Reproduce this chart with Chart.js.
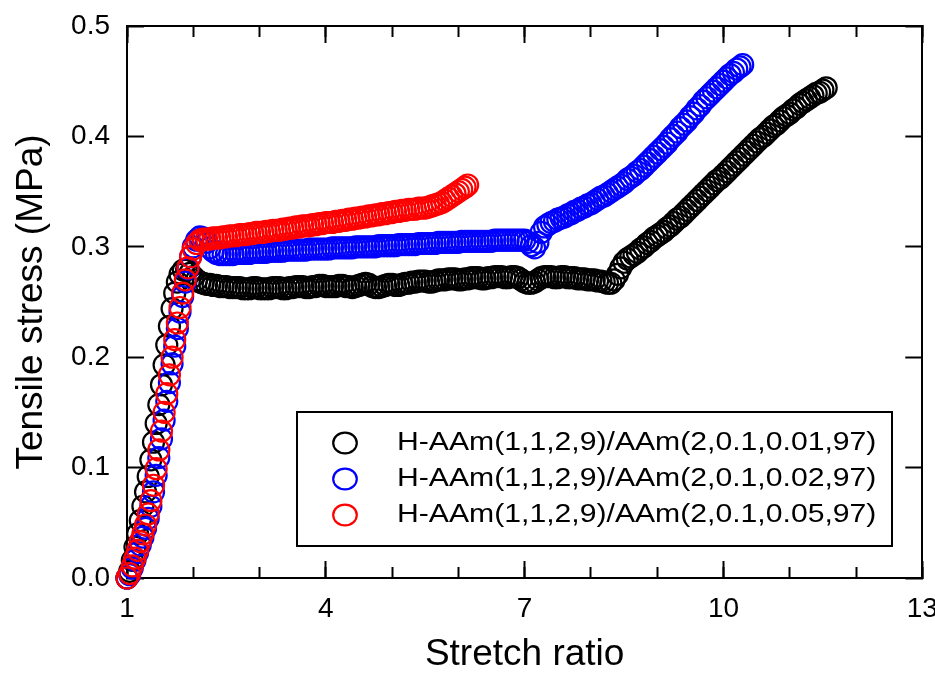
<!DOCTYPE html>
<html>
<head>
<meta charset="utf-8">
<title>Tensile stress vs stretch ratio</title>
<script src="https://cdn.jsdelivr.net/npm/chart.js@4.4.1/dist/chart.umd.min.js"></script>
<style>
  html, body { margin: 0; padding: 0; background: #ffffff; }
  canvas { display: block; }
</style>
</head>
<body>
<canvas id="chart" width="935" height="681"></canvas>
<script>
// ---- series labels and colours ----
const seriesLabels = [
  'H-AAm(1,1,2,9)/AAm(2,0.1,0.01,97)',
  'H-AAm(1,1,2,9)/AAm(2,0.1,0.02,97)',
  'H-AAm(1,1,2,9)/AAm(2,0.1,0.05,97)'
];
const seriesColors = ['#000000', '#0000ff', '#ff0000'];

// ---- axis ticks ----
const xMajorTicks = [1, 4, 7, 10, 13];
const xMinorTicks = [1, 2, 3, 4, 5, 6, 7, 8, 9, 10, 11, 12, 13];
const yTicks = [0, 0.1, 0.2, 0.3, 0.4, 0.5];
const yTickLabels = ['0.0', '0.1', '0.2', '0.3', '0.4', '0.5'];

// ---- AAm 0.01 (black) ----
const stretch001 = [
  1.00,1.04,1.08,1.12,1.16,1.20,1.24,1.28,1.32,1.36,1.40,1.44,1.48,1.52,1.56,1.60,1.64,1.68,1.72,1.76,
  1.80,1.85,1.90,1.95,2.00,2.05,2.10,
  2.15,2.20,2.25,2.30,2.35,2.40,2.45,2.50,2.55,2.60,
  2.65,2.70,2.75,2.80,2.85,2.90,2.95,3.00,3.05,3.10,
  3.15,3.20,3.25,3.30,3.35,3.40,3.45,3.50,3.55,3.60,
  3.65,3.70,3.75,3.80,3.85,3.90,3.95,4.00,4.05,4.10,
  4.15,4.20,4.25,4.30,4.35,4.40,4.45,4.50,4.55,4.60,
  4.65,4.70,4.75,4.80,4.85,4.90,4.95,5.00,5.05,5.10,
  5.15,5.20,5.25,5.30,5.35,5.40,5.45,5.50,5.55,5.60,
  5.65,5.70,5.75,5.80,5.85,5.90,5.95,6.00,6.05,6.10,
  6.15,6.20,6.25,6.30,6.35,6.40,6.45,6.50,6.55,6.60,
  6.65,6.70,6.75,6.80,6.85,6.90,6.95,7.00,7.05,7.10,
  7.15,7.20,7.25,7.30,7.35,7.40,7.45,7.50,7.55,7.60,
  7.65,7.70,7.75,7.80,7.85,7.90,7.95,8.00,8.05,8.10,
  8.15,8.20,8.25,8.30,
  8.35,8.40,8.45,8.50,8.55,8.60,8.65,8.70,8.75,8.80,
  8.85,8.90,8.95,9.00,9.05,9.10,9.15,9.20,9.25,9.30,
  9.35,9.40,9.45,9.50,9.55,9.60,9.65,9.70,9.75,9.80,
  9.85,9.90,9.95,10.00,10.05,10.10,10.15,10.20,10.25,10.30,
  10.35,10.40,10.45,10.50,10.55,10.60,10.65,10.70,10.75,10.80,
  10.85,10.90,10.95,11.00,11.05,11.10,11.15,11.20,11.25,11.30,
  11.35,11.40,11.45,11.50,11.55
];
const stress001 = [
  0.000,0.006,0.016,0.028,0.040,0.052,0.065,0.078,0.092,0.107,0.123,0.140,0.157,0.175,0.193,0.211,0.228,0.244,0.258,0.268,
  0.275,0.279,0.279,0.276,0.273,0.270,0.268,
  0.267,0.266,0.266,0.265,0.265,0.264,0.264,0.264,0.263,0.263,
  0.263,0.263,0.262,0.262,0.262,0.263,0.263,0.262,0.262,0.262,
  0.262,0.263,0.263,0.263,0.262,0.262,0.263,0.263,0.264,0.264,
  0.264,0.263,0.263,0.264,0.264,0.265,0.265,0.264,0.264,0.264,
  0.264,0.265,0.265,0.264,0.264,0.263,0.264,0.265,0.266,0.267,
  0.266,0.264,0.263,0.263,0.264,0.265,0.266,0.266,0.265,0.265,
  0.266,0.267,0.267,0.268,0.268,0.269,0.269,0.269,0.268,0.268,
  0.269,0.270,0.270,0.270,0.271,0.271,0.271,0.270,0.270,0.271,
  0.271,0.272,0.272,0.272,0.271,0.271,0.272,0.272,0.273,0.273,
  0.273,0.272,0.272,0.273,0.273,0.272,0.270,0.268,0.267,0.267,
  0.268,0.270,0.272,0.273,0.273,0.273,0.272,0.272,0.273,0.273,
  0.272,0.272,0.272,0.271,0.271,0.271,0.270,0.270,0.270,0.269,
  0.269,0.268,0.267,0.267,
  0.270,0.275,0.281,0.286,0.289,0.291,0.293,0.295,0.298,0.300,
  0.303,0.305,0.308,0.310,0.312,0.314,0.317,0.319,0.322,0.325,
  0.327,0.330,0.333,0.336,0.339,0.342,0.345,0.348,0.351,0.354,
  0.357,0.360,0.362,0.365,0.368,0.371,0.374,0.377,0.380,0.383,
  0.386,0.389,0.392,0.395,0.398,0.400,0.403,0.406,0.409,0.411,
  0.414,0.417,0.419,0.421,0.424,0.426,0.429,0.431,0.433,0.435,
  0.437,0.439,0.440,0.442,0.444
];

// ---- AAm 0.02 (blue) ----
const stretch002 = [
  1.00,1.04,1.08,1.12,1.16,1.20,1.24,1.28,1.32,1.36,1.40,1.44,1.48,1.52,1.56,1.60,1.64,1.68,1.72,1.76,
  1.80,1.84,1.88,1.92,1.96,
  2.00,2.05,2.10,2.15,2.20,2.25,2.30,2.35,2.40,
  2.45,2.50,2.55,2.60,2.65,2.70,2.75,2.80,2.85,2.90,
  2.95,3.00,3.05,3.10,3.15,3.20,3.25,3.30,3.35,3.40,
  3.45,3.50,3.55,3.60,3.65,3.70,3.75,3.80,3.85,3.90,
  3.95,4.00,4.05,4.10,4.15,4.20,4.25,4.30,4.35,4.40,
  4.45,4.50,4.55,4.60,4.65,4.70,4.75,4.80,4.85,4.90,
  4.95,5.00,5.05,5.10,5.15,5.20,5.25,5.30,5.35,5.40,
  5.45,5.50,5.55,5.60,5.65,5.70,5.75,5.80,5.85,5.90,
  5.95,6.00,6.05,6.10,6.15,6.20,6.25,6.30,6.35,6.40,
  6.45,6.50,6.55,6.60,6.65,6.70,6.75,6.80,6.85,6.90,
  6.95,7.00,
  7.05,7.10,7.15,7.20,7.25,7.30,7.35,7.40,
  7.45,7.50,7.55,7.60,7.65,7.70,7.75,7.80,7.85,7.90,
  7.95,8.00,8.05,8.10,8.15,8.20,8.25,8.30,8.35,8.40,
  8.45,8.50,8.55,8.60,8.65,8.70,8.75,8.80,8.85,8.90,
  8.95,9.00,9.05,9.10,9.15,9.20,9.25,9.30,9.35,9.40,
  9.45,9.50,9.55,9.60,9.65,9.70,9.75,9.80,9.85,9.90,
  9.95,10.00,10.05,10.10,10.15,10.20,10.25,10.29
];
const stress002 = [
  0.000,0.003,0.009,0.016,0.023,0.030,0.037,0.045,0.054,0.065,0.078,0.093,0.109,0.126,0.143,0.160,0.177,0.194,0.210,0.226,
  0.241,0.255,0.268,0.280,0.291,
  0.300,0.306,0.309,0.308,0.304,0.299,0.296,0.294,0.293,
  0.293,0.293,0.293,0.293,0.294,0.294,0.294,0.294,0.294,0.295,
  0.295,0.295,0.295,0.295,0.296,0.296,0.296,0.296,0.296,0.297,
  0.297,0.297,0.297,0.297,0.297,0.297,0.298,0.298,0.298,0.298,
  0.298,0.298,0.298,0.299,0.299,0.299,0.299,0.299,0.299,0.299,
  0.300,0.300,0.300,0.300,0.300,0.300,0.300,0.301,0.301,0.301,
  0.301,0.301,0.301,0.302,0.302,0.302,0.302,0.302,0.302,0.303,
  0.303,0.303,0.303,0.303,0.303,0.304,0.304,0.304,0.304,0.304,
  0.304,0.304,0.305,0.305,0.305,0.305,0.305,0.305,0.305,0.305,
  0.305,0.305,0.306,0.306,0.306,0.306,0.306,0.306,0.306,0.306,
  0.306,0.306,
  0.304,0.301,0.299,0.304,0.313,0.318,0.320,0.322,
  0.323,0.325,0.326,0.327,0.329,0.330,0.332,0.333,0.335,0.336,
  0.338,0.339,0.341,0.343,0.345,0.346,0.348,0.350,0.352,0.354,
  0.356,0.358,0.361,0.363,0.365,0.368,0.370,0.373,0.376,0.379,
  0.382,0.385,0.388,0.391,0.394,0.398,0.401,0.404,0.408,0.411,
  0.414,0.418,0.421,0.425,0.428,0.432,0.435,0.438,0.441,0.444,
  0.447,0.450,0.453,0.456,0.458,0.461,0.463,0.465
];

// ---- AAm 0.05 (red) ----
const stretch005 = [
  1.00,1.04,1.08,1.12,1.16,1.20,1.24,1.28,1.32,1.36,1.40,1.44,1.48,1.52,1.56,1.60,1.64,1.68,1.72,1.76,
  1.80,1.84,1.88,1.92,1.96,
  2.00,2.05,2.10,2.15,
  2.20,2.25,2.30,2.35,2.40,2.45,2.50,2.55,2.60,2.65,
  2.70,2.75,2.80,2.85,2.90,2.95,3.00,3.05,3.10,3.15,
  3.20,3.25,3.30,3.35,3.40,3.45,3.50,3.55,3.60,3.65,
  3.70,3.75,3.80,3.85,3.90,3.95,4.00,4.05,4.10,4.15,
  4.20,4.25,4.30,4.35,4.40,4.45,4.50,4.55,4.60,4.65,
  4.70,4.75,4.80,4.85,4.90,4.95,5.00,5.05,5.10,5.15,
  5.20,5.25,5.30,5.35,5.40,5.45,5.50,5.55,5.60,5.65,
  5.70,5.75,5.80,5.85,5.90,5.95,6.00,6.05,6.10,
  6.14
];
const stress005 = [
  0.000,0.004,0.011,0.018,0.025,0.033,0.040,0.048,0.058,0.070,0.084,0.099,0.116,0.133,0.150,0.167,0.184,0.200,0.216,0.231,
  0.245,0.258,0.270,0.281,0.291,
  0.298,0.303,0.306,0.307,
  0.307,0.307,0.308,0.308,0.308,0.309,0.309,0.310,0.310,0.310,
  0.311,0.311,0.311,0.312,0.312,0.313,0.313,0.313,0.314,0.314,
  0.315,0.315,0.315,0.316,0.316,0.317,0.317,0.318,0.318,0.319,
  0.319,0.319,0.320,0.320,0.321,0.321,0.322,0.322,0.322,0.323,
  0.323,0.324,0.324,0.325,0.325,0.326,0.326,0.327,0.327,0.328,
  0.328,0.329,0.329,0.330,0.330,0.331,0.331,0.332,0.332,0.333,
  0.333,0.334,0.334,0.334,0.335,0.335,0.335,0.336,0.337,0.338,
  0.339,0.340,0.342,0.344,0.346,0.348,0.350,0.352,0.354,
  0.356
];

const FONT = "'Liberation Sans', Arial, Helvetica, sans-serif";

function toPoints(xs, ys) {
  return xs.map((x, i) => ({ x: x, y: ys[i] }));
}

function seriesDataset(idx, xs, ys, order) {
  return {
    label: seriesLabels[idx],
    data: toPoints(xs, ys),
    borderColor: seriesColors[idx],
    backgroundColor: 'rgba(0,0,0,0)',
    pointBorderColor: seriesColors[idx],
    pointBackgroundColor: 'rgba(0,0,0,0)',
    pointStyle: 'circle',
    pointRadius: 10.5,
    pointBorderWidth: 2.2,
    borderWidth: 2.2,
    showLine: false,
    clip: false,
    order: order
  };
}

// Boxed legend in the lower right of the plot
const boxedLegend = {
  id: 'boxedLegend',
  afterDatasetsDraw(chart) {
    const ctx = chart.ctx;
    const left = 297, top = 412, right = 892, bottom = 546;
    const rowY = [443, 479, 515];
    ctx.save();
    ctx.fillStyle = '#ffffff';
    ctx.fillRect(left, top, right - left, bottom - top);
    ctx.lineWidth = 2;
    ctx.strokeStyle = '#000000';
    ctx.strokeRect(left, top, right - left, bottom - top);
    chart.data.datasets.forEach((ds, i) => {
      const y = rowY[i];
      ctx.beginPath();
      ctx.ellipse(345, y, 11.8, 10.4, 0, 0, Math.PI * 2);
      ctx.lineWidth = 2.2;
      ctx.strokeStyle = ds.borderColor;
      ctx.stroke();
      ctx.save();
      ctx.translate(397, y);
      ctx.scale(1.16, 1);
      ctx.font = '26px ' + FONT;
      ctx.fillStyle = '#000000';
      ctx.textAlign = 'left';
      ctx.textBaseline = 'middle';
      ctx.fillText(ds.label, 0, 0);
      ctx.restore();
    });
    ctx.restore();
  }
};

const tickFont = { family: FONT, size: 28 };
const titleFont = { family: FONT, size: 37, lineHeight: 1 };
const edge = { display: true, color: '#000000', width: 2 };

function inwardGrid(len) {
  return {
    display: true,
    drawOnChartArea: false,
    drawTicks: true,
    tickLength: -len,
    tickWidth: 2,
    tickColor: '#000000',
    color: '#000000'
  };
}

// Fixed axis thickness, no extra room reserved for overhanging labels
function fixSize(size) {
  return s => {
    if (s.isHorizontal()) { s.height = size; } else { s.width = size; }
    s.paddingLeft = 0; s.paddingRight = 0; s.paddingTop = 0; s.paddingBottom = 0;
  };
}

new Chart(document.getElementById('chart'), {
  type: 'scatter',
  data: {
    datasets: [
      seriesDataset(0, stretch001, stress001, 3),
      seriesDataset(1, stretch002, stress002, 2),
      seriesDataset(2, stretch005, stress005, 1)
    ]
  },
  options: {
    responsive: false,
    devicePixelRatio: 1,
    animation: false,
    events: [],
    layout: { padding: { left: 0, right: 12, top: 26, bottom: 0 } },
    plugins: {
      legend: { display: false },
      tooltip: { enabled: false }
    },
    scales: {
      x: {
        type: 'linear', position: 'bottom', weight: 1, min: 1, max: 13,
        afterBuildTicks: s => { s.ticks = xMajorTicks.map(v => ({ value: v })); },
        ticks: { font: tickFont, color: '#000000', padding: 31, maxRotation: 0, autoSkip: false,
                 callback: v => String(v) },
        grid: inwardGrid(17),
        border: edge,
        title: { display: true, text: 'Stretch ratio', color: '#000000', font: titleFont,
                 padding: { top: 0, bottom: 8 } },
        afterFit: fixSize(103)
      },
      xMinor: {
        type: 'linear', position: 'bottom', weight: 0, min: 1, max: 13,
        afterBuildTicks: s => { s.ticks = xMinorTicks.map(v => ({ value: v })); },
        ticks: { display: false },
        grid: inwardGrid(11),
        border: edge,
        afterFit: fixSize(0)
      },
      xTop: {
        type: 'linear', position: 'top', weight: 1, min: 1, max: 13,
        afterBuildTicks: s => { s.ticks = xMajorTicks.map(v => ({ value: v })); },
        ticks: { display: false },
        grid: inwardGrid(17),
        border: edge,
        afterFit: fixSize(0)
      },
      xTopMinor: {
        type: 'linear', position: 'top', weight: 0, min: 1, max: 13,
        afterBuildTicks: s => { s.ticks = xMinorTicks.map(v => ({ value: v })); },
        ticks: { display: false },
        grid: inwardGrid(11),
        border: edge,
        afterFit: fixSize(0)
      },
      y: {
        type: 'linear', position: 'left', min: 0, max: 0.5,
        afterBuildTicks: s => { s.ticks = yTicks.map(v => ({ value: v })); },
        ticks: { font: tickFont, color: '#000000', padding: 34, autoSkip: false,
                 callback: (v, i) => yTickLabels[i] },
        grid: inwardGrid(17),
        border: edge,
        title: { display: true, text: 'Tensile stress (MPa)', color: '#000000', font: titleFont,
                 padding: { top: 13, bottom: 0 } },
        afterFit: fixSize(127)
      },
      yRight: {
        type: 'linear', position: 'right', min: 0, max: 0.5,
        afterBuildTicks: s => { s.ticks = yTicks.map(v => ({ value: v })); },
        ticks: { display: false },
        grid: inwardGrid(17),
        border: edge,
        afterFit: fixSize(0)
      }
    }
  },
  plugins: [boxedLegend]
});
</script>
</body>
</html>
